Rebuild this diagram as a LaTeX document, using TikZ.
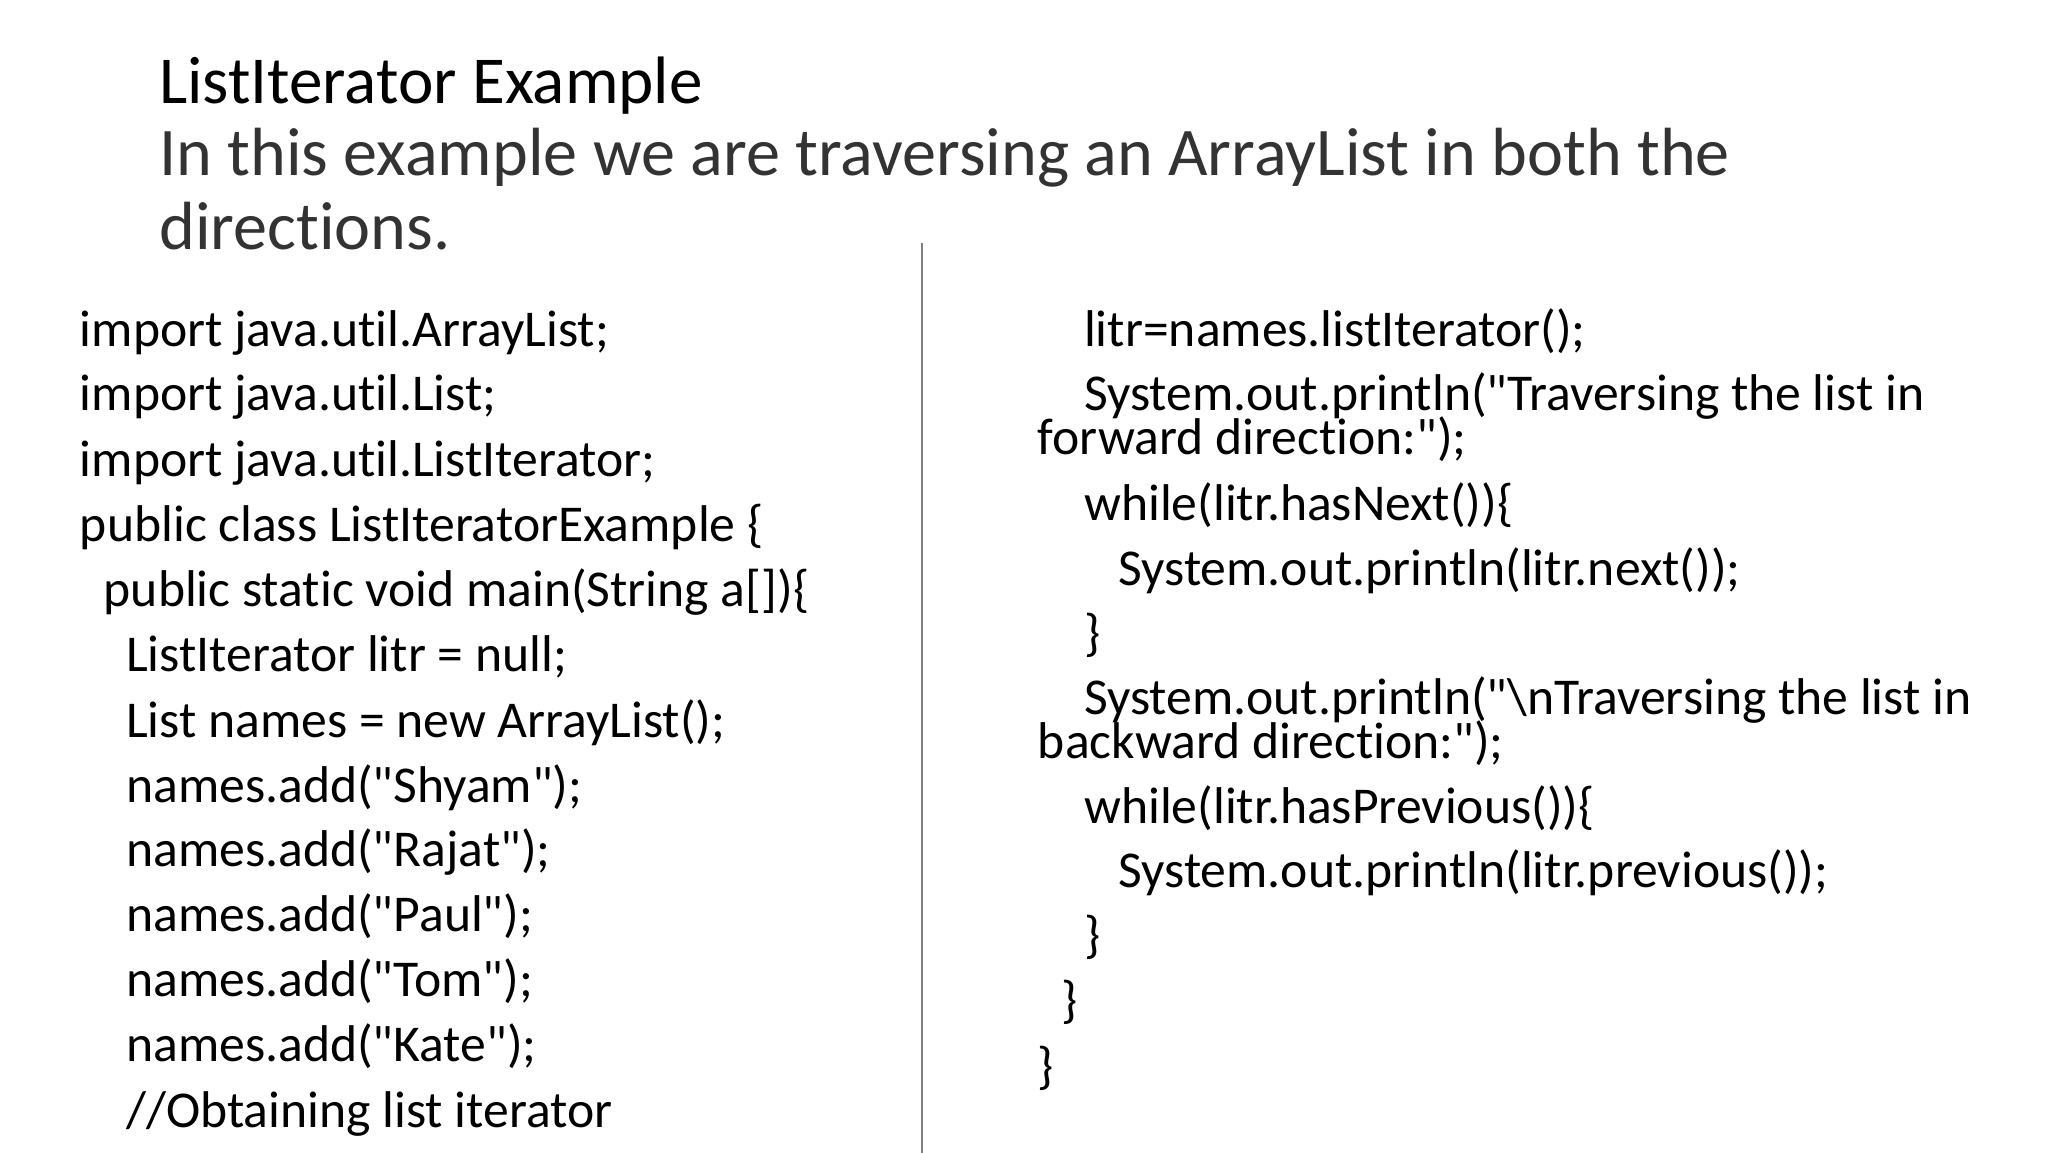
\documentclass[tikz,border=0pt]{standalone}
\usepackage{fontspec}
\setmainfont[Ligatures={TeXOff,NoCommon},RawFeature={-liga;-calt;-clig;-dlig}]{Carlito}
\newcommand\dq{\symbol{34}}
\begin{document}
\begin{tikzpicture}[x=0.013213cm,y=-0.013213cm,
  code/.style={anchor=base west,inner sep=0pt,font=\fontsize{14.7pt}{18pt}\selectfont}]
\useasboundingbox (0,0) rectangle (1550,871.9);
\node[anchor=base west,inner sep=0pt,font=\fontsize{19.1pt}{24pt}\selectfont] (title) at (120,78) {ListIterator Example};
\node[anchor=base west,inner sep=0pt,font=\fontsize{19.4pt}{26pt}\selectfont,text=black!80] (sub1) at (120,133) {In this example we are traversing an ArrayList in both the};
\node[anchor=base west,inner sep=0pt,font=\fontsize{19.4pt}{26pt}\selectfont,text=black!80] (sub2) at (120,189) {directions.};
\coordinate (dtop) at (698,184);
\coordinate (dbot) at (698,880);
\draw[black!50,line width=0.6pt] (dtop) -- (dbot);
\node[code] (l1) at (60,262) {import java.util.ArrayList;};
\node[code] (l2) at (60,311) {import java.util.List;};
\node[code] (l3) at (60,361) {import java.util.ListIterator;};
\node[code] (l4) at (60,410) {public class ListIteratorExample \{};
\node[code] (l5) at (78,459) {public static void main(String a[])\{};
\node[code] (l6) at (95,508) {ListIterator litr = null;};
\node[code] (l7) at (95,558) {List names = new ArrayList();};
\node[code] (l8) at (95,607) {names.add(\dq Shyam\dq);};
\node[code] (l9) at (95,656) {names.add(\dq Rajat\dq);};
\node[code] (l10) at (95,705) {names.add(\dq Paul\dq);};
\node[code] (l11) at (95,754) {names.add(\dq Tom\dq);};
\node[code] (l12) at (95,803) {names.add(\dq Kate\dq);};
\node[code] (l13) at (95,853) {//Obtaining list iterator};
\node[code] (r1) at (820,262) {litr=names.listIterator();};
\node[code] (r2) at (820,311) {System.out.println(\dq Traversing the list in};
\node[code] (r3) at (785,344) {forward direction:\dq);};
\node[code] (r4) at (820,394) {while(litr.hasNext())\{};
\node[code] (r5) at (846,443) {System.out.println(litr.next());};
\node[code] (r6) at (820,492) {\}};
\node[code] (r7) at (820,541) {System.out.println(\dq\textbackslash nTraversing the list in};
\node[code] (r8) at (785,574) {backward direction:\dq);};
\node[code] (r9) at (820,623) {while(litr.hasPrevious())\{};
\node[code] (r10) at (846,672) {System.out.println(litr.previous());};
\node[code] (r11) at (820,721) {\}};
\node[code] (r12) at (803,770) {\}};
\node[code] (r13) at (785,820) {\}};
\end{tikzpicture}
\end{document}
